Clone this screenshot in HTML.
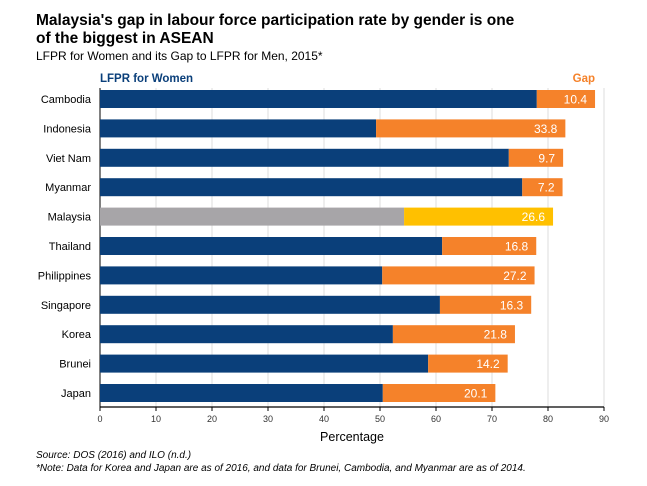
<!DOCTYPE html>
<html><head><meta charset="utf-8"><style>
body{margin:0;background:#fff;font-family:"Liberation Sans",Arial,sans-serif;}
svg text{font-family:"Liberation Sans",Arial,sans-serif;}
</style></head><body>
<svg width="647" height="481" xmlns="http://www.w3.org/2000/svg" id="chart">
<text x="36" y="25" font-size="15.5" font-weight="bold" fill="#000">Malaysia's gap in labour force participation rate by gender is one</text>
<text x="36" y="43" font-size="15.5" font-weight="bold" fill="#000">of the biggest in ASEAN</text>
<text x="36" y="60" font-size="12" fill="#000">LFPR for Women and its Gap to LFPR for Men, 2015*</text>
<text x="100" y="82" font-size="11.5" font-weight="bold" fill="#0a3f7a">LFPR for Women</text>
<text x="595" y="82" font-size="11.5" font-weight="bold" fill="#f5822a" text-anchor="end">Gap</text>
<g id="grid"></g><g id="bars"></g><g id="axis"></g>
<text x="352" y="441" font-size="12.5" text-anchor="middle" fill="#000">Percentage</text>
<text x="36" y="458" font-size="10" font-style="italic">Source: DOS (2016) and ILO (n.d.)</text>
<text x="36" y="471" font-size="10" font-style="italic">*Note: Data for Korea and Japan are as of 2016, and data for Brunei, Cambodia, and Myanmar are as of 2014.</text>
</svg>
<script>
const categories=["Cambodia","Indonesia","Viet Nam","Myanmar","Malaysia","Thailand","Philippines","Singapore","Korea","Brunei","Japan"];
const women=[78.0,49.3,73.0,75.4,54.3,61.1,50.4,60.7,52.3,58.6,50.5];
const gap=[10.4,33.8,9.7,7.2,26.6,16.8,27.2,16.3,21.8,14.2,20.1];
const ticks=[0,10,20,30,40,50,60,70,80,90];
const NS="http://www.w3.org/2000/svg";
const x=v=>100+v*5.6;
const y=i=>99+i*29.4;
const grid=document.getElementById('grid'),bars=document.getElementById('bars'),axis=document.getElementById('axis');
function mk(tag,attrs,parent){const e=document.createElementNS(NS,tag);for(const k in attrs)e.setAttribute(k,attrs[k]);parent.appendChild(e);return e;}
ticks.forEach(t=>{
 const g=mk('line',{x1:x(t),x2:x(t),y1:88,y2:407,stroke:t===0?'#000':'#ddd','stroke-width':1},grid);
 
 
 const tk=mk('line',{x1:x(t),x2:x(t),y1:407,y2:411,stroke:'#000'},axis);
 
 
 const lb=mk('text',{x:x(t),y:422,'font-size':9,'text-anchor':'middle',fill:'#333'},axis);
 lb.textContent=t;
 
 
});
const ax=mk('line',{x1:100,x2:x(90),y1:407,y2:407,stroke:'#000','stroke-width':1.3},axis);


categories.forEach((c,i)=>{
 const mal=c==="Malaysia";
 const cy=y(i);
 const r1=mk('rect',{x:x(0),y:cy-9,width:x(women[i])-x(0),height:18,fill:mal?'#a7a5a8':'#0a3f7a'},bars);
 
 
 const r2=mk('rect',{x:x(women[i]),y:cy-9,width:x(women[i]+gap[i])-x(women[i]),height:18,fill:mal?'#ffc000':'#f5822a'},bars);
 
 
 const v=mk('text',{x:x(women[i]+gap[i])-8,y:cy+4.5,'font-size':12,'text-anchor':'end',fill:'#fff'},bars);
 v.textContent=gap[i].toFixed(1);
 
 
 const l=mk('text',{x:91,y:cy+4,'font-size':11,'text-anchor':'end',fill:'#000'},bars);
 l.textContent=c;
 
 
});
</script>
</body></html>
